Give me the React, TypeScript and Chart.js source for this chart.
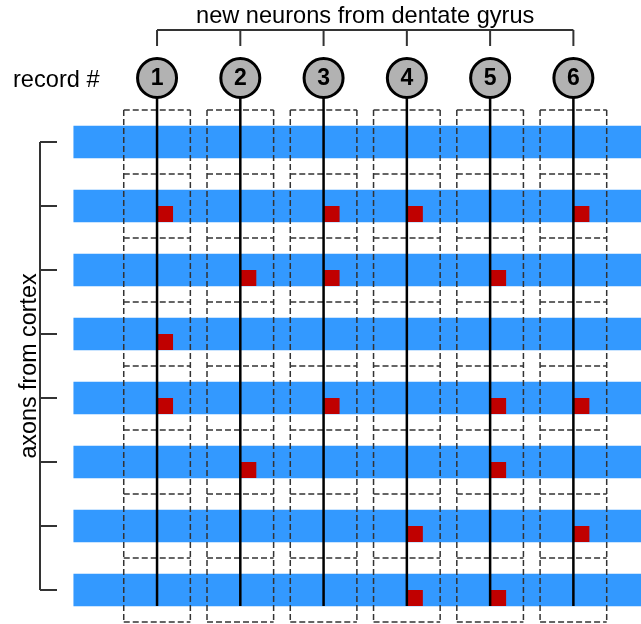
import { useEffect, useRef } from 'react';
import { Chart, registerables } from 'chart.js';

Chart.register(...registerables);

// ---- data ----
const neurons = [1, 2, 3, 4, 5, 6];
const neuronLabels = ['1', '2', '3', '4', '5', '6'];
const axons = [1, 2, 3, 4, 5, 6, 7, 8];
// neurons contacted by each axon (axon 1..8, top to bottom)
const connections: number[][] = [[], [1, 3, 4, 6], [2, 3, 5], [1], [1, 3, 5, 6], [2, 5], [4, 6], [4, 5]];
const titleText = 'new neurons from dentate gyrus';
const recordText = 'record #';
const axonText = 'axons from cortex';

// ---- layout (value space) ----
const X_MIN = -0.886;
const X_MAX = 6.812;
const Y_MIN = -1.219;
const Y_MAX = 8.531;
const LINE_END = 8.25;
const BOX_HALF_W = 0.4;
const BOX_HALF_H = 0.5;

const FONT = '"Liberation Sans", Arial, sans-serif';

const barData = axons.map((a) => ({ x: [0, X_MAX], y: a }));
const synapseData = connections.flatMap((list, k) => list.map((n) => ({ x: n, y: axons[k] })));
const neuronLineData = neurons.flatMap((n) => [
  { x: n, y: 0 },
  { x: n, y: LINE_END },
  { x: n, y: null },
]);
const firstAxon = axons[0];
const lastAxon = axons[axons.length - 1];
const boxData = neurons.flatMap((n) => {
  const pts: { x: number; y: number | null }[] = [];
  const top = firstAxon - BOX_HALF_H;
  const bottom = lastAxon + BOX_HALF_H;
  pts.push({ x: n - BOX_HALF_W, y: top }, { x: n - BOX_HALF_W, y: bottom }, { x: n, y: null });
  pts.push({ x: n + BOX_HALF_W, y: top }, { x: n + BOX_HALF_W, y: bottom }, { x: n, y: null });
  for (let k = 0; k <= axons.length; k++) {
    const yy = firstAxon - BOX_HALF_H + k;
    pts.push({ x: n - BOX_HALF_W, y: yy }, { x: n + BOX_HALF_W, y: yy }, { x: n, y: null });
  }
  return pts;
});
const circleData = neurons.map((n) => ({ x: n, y: 0 }));

const decorPlugin = {
  id: 'decor',
  beforeDatasetDraw(chart: any, args: any) {
    if (chart.data.datasets[args.index].label === 'synapses') {
      chart.ctx.save();
      chart.ctx.translate(8, 8);
    }
  },
  afterDatasetDraw(chart: any, args: any) {
    if (chart.data.datasets[args.index].label === 'synapses') {
      chart.ctx.restore();
    }
  },
  beforeDatasetsDraw(chart: any) {
    const { ctx, scales } = chart;
    const xs = scales.x;
    const ys = scales.y;
    ctx.save();
    ctx.strokeStyle = '#333';
    ctx.lineWidth = 2;
    // top bracket
    const bx0 = xs.getPixelForValue(neurons[0]);
    const bx1 = xs.getPixelForValue(neurons[neurons.length - 1]);
    const by = 30;
    ctx.beginPath();
    ctx.moveTo(bx0, by);
    ctx.lineTo(bx1, by);
    neurons.forEach((n) => {
      const px = xs.getPixelForValue(n);
      ctx.moveTo(px, by);
      ctx.lineTo(px, by + 16);
    });
    ctx.stroke();
    // left bracket
    const lx = 40;
    const ly0 = ys.getPixelForValue(firstAxon);
    const ly1 = ys.getPixelForValue(lastAxon);
    ctx.beginPath();
    ctx.moveTo(lx, ly0);
    ctx.lineTo(lx, ly1);
    axons.forEach((a) => {
      const py = ys.getPixelForValue(a);
      ctx.moveTo(lx, py);
      ctx.lineTo(lx + 17, py);
    });
    ctx.stroke();
    ctx.restore();
  },
  afterDatasetsDraw(chart: any) {
    const { ctx, scales } = chart;
    const xs = scales.x;
    const ys = scales.y;
    ctx.save();
    ctx.fillStyle = '#000';
    // numbers in circles
    ctx.font = `bold 23px ${FONT}`;
    ctx.textAlign = 'center';
    ctx.textBaseline = 'middle';
    neurons.forEach((n, i) => {
      ctx.fillText(neuronLabels[i], xs.getPixelForValue(n), ys.getPixelForValue(0) + 1);
    });
    // title
    ctx.font = `23.6px ${FONT}`;
    ctx.textBaseline = 'alphabetic';
    const cx = (xs.getPixelForValue(neurons[0]) + xs.getPixelForValue(neurons[neurons.length - 1])) / 2;
    ctx.fillText(titleText, cx, 23);
    // record #
    ctx.textAlign = 'left';
    ctx.fillText(recordText, 13, 87);
    // axons from cortex
    const cy = (ys.getPixelForValue(firstAxon) + ys.getPixelForValue(lastAxon)) / 2;
    ctx.font = `23.3px ${FONT}`;
    ctx.translate(36, cy);
    ctx.rotate(-Math.PI / 2);
    ctx.textAlign = 'center';
    ctx.fillText(axonText, 0, 0);
    ctx.restore();
  },
};

export default function App() {
  const ref = useRef<HTMLCanvasElement>(null);
  useEffect(() => {
    const canvas = ref.current!;
    const chart = new Chart(canvas, {
      type: 'scatter',
      data: {
        datasets: [
          {
            label: 'circles',
            type: 'scatter',
            data: circleData,
            pointRadius: 19.5,
            pointBorderWidth: 3,
            pointBackgroundColor: '#b2b2b2',
            pointBorderColor: '#000',
            order: 1,
          } as any,
          {
            label: 'neuronLines',
            type: 'line',
            data: neuronLineData,
            borderColor: '#000',
            borderWidth: 2.5,
            pointRadius: 0,
            fill: false,
            spanGaps: false,
            order: 3,
          } as any,
          {
            label: 'synapses',
            type: 'scatter',
            data: synapseData,
            pointStyle: 'rect',
            pointRadius: 16 * Math.SQRT1_2,
            pointBorderWidth: 0,
            pointBackgroundColor: '#c00000',
            order: 5,
          } as any,
          {
            label: 'boxes',
            type: 'line',
            data: boxData,
            borderColor: '#333',
            borderWidth: 1.5,
            borderDash: [6, 3],
            pointRadius: 0,
            fill: false,
            spanGaps: false,
            order: 7,
          } as any,
          {
            label: 'axons',
            type: 'bar',
            indexAxis: 'y',
            data: barData,
            backgroundColor: '#3399ff',
            borderWidth: 0,
            barThickness: 32,
            order: 10,
          } as any,
        ],
      },
      options: {
        animation: false,
        responsive: false,
        events: [],
        layout: { padding: 0, autoPadding: false },
        plugins: { legend: { display: false }, tooltip: { enabled: false } },
        scales: {
          x: { type: 'linear', display: false, min: X_MIN, max: X_MAX, bounds: 'data', offset: false },
          y: { type: 'linear', display: false, min: Y_MIN, max: Y_MAX, reverse: true, bounds: 'data', offset: false },
        },
      } as any,
      plugins: [decorPlugin],
    });
    return () => chart.destroy();
  }, []);
  return (
    <div style={{ position: 'absolute', left: 0, top: 0, width: 641, height: 624, background: '#fff' }}>
      <canvas ref={ref} width={641} height={624} style={{ display: 'block' }} />
    </div>
  );
}
